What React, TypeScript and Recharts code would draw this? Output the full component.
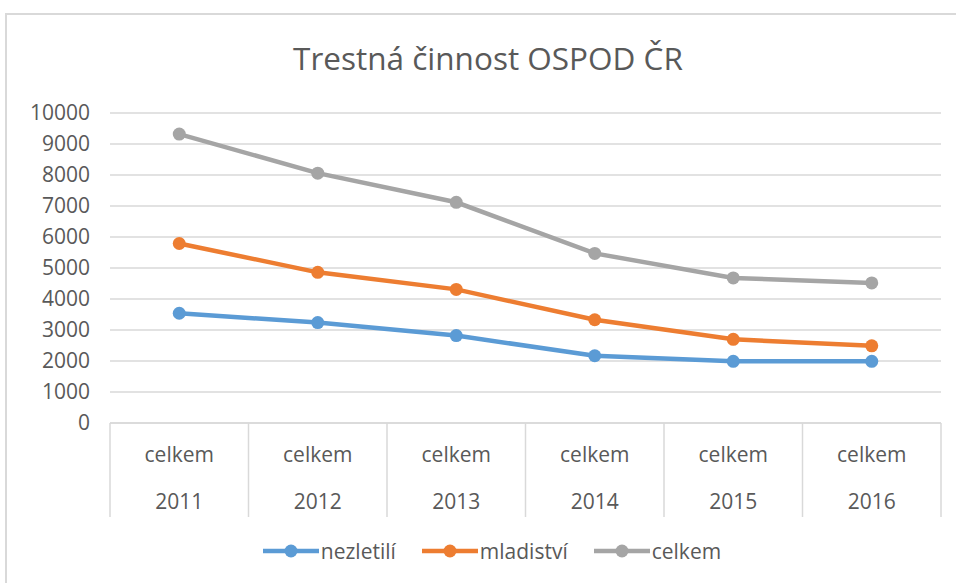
import React from "react";
import { LineChart, Line, XAxis, YAxis, CartesianGrid, Legend } from "recharts";

const years = ["2011", "2012", "2013", "2014", "2015", "2016"];
const categories = ["celkem", "celkem", "celkem", "celkem", "celkem", "celkem"];
const nezletili = [3540, 3240, 2820, 2170, 1990, 1990];
const mladistvi = [5790, 4860, 4310, 3330, 2700, 2490];
const celkem = [9320, 8060, 7120, 5470, 4680, 4520];
const yTicks = [0, 1000, 2000, 3000, 4000, 5000, 6000, 7000, 8000, 9000, 10000];

const seriesList = [
  { key: "nezletili", name: "nezletilí", color: "#5B9BD5" },
  { key: "mladistvi", name: "mladiství", color: "#ED7D31" },
  { key: "celkem", name: "celkem", color: "#A5A5A5" },
];

const data = years.map((year, i) => ({
  year,
  category: categories[i],
  nezletili: nezletili[i],
  mladistvi: mladistvi[i],
  celkem: celkem[i],
}));

// layout
const W = 956;
const H = 583;
const MARGIN = { top: 113, right: 15, left: 0, bottom: 66 };
const Y_W = 110;
const AXIS_H = 47;
const BAND = (W - MARGIN.left - MARGIN.right - Y_W) / years.length;
const GRID = "#d9d9d9";
const TEXT = "#595959";
const FONT = "'Open Sans', sans-serif";

const makeTick = (labels: string[]) => (props: any) => {
  const { x, y, index } = props;
  const half = BAND / 2;
  return (
    <g>
      <line x1={x - half} x2={x - half} y1={y} y2={y + AXIS_H} stroke={GRID} strokeWidth={1.5} />
      {index === labels.length - 1 && (
        <line x1={x + half} x2={x + half} y1={y} y2={y + AXIS_H} stroke={GRID} strokeWidth={1.5} />
      )}
      <text x={x} y={y + 39} textAnchor="middle" fill={TEXT} fontSize={21} fontFamily={FONT}>
        {labels[index]}
      </text>
    </g>
  );
};

// legend in series order (nezletilí, mladiství, celkem)
const renderLegend = () => (
  <div style={{ display: "flex", justifyContent: "center", gap: 26 }}>
    {seriesList.map((s) => (
      <div key={s.key} style={{ display: "flex", alignItems: "center" }}>
        <svg width={56} height={16}>
          <line x1={0} x2={56} y1={8} y2={8} stroke={s.color} strokeWidth={4.5} />
          <circle cx={28} cy={8} r={6.5} fill={s.color} />
        </svg>
        <span style={{ fontSize: 21, color: TEXT, fontFamily: FONT, marginLeft: 2 }}>{s.name}</span>
      </div>
    ))}
  </div>
);

export default function App() {
  return (
    <div
      style={{
        position: "absolute",
        left: 0,
        top: 0,
        width: W,
        height: H,
        overflow: "hidden",
        background: "#fff",
      }}
    >
      <div
        style={{
          position: "absolute",
          left: 5,
          top: 13,
          width: 1100,
          height: 800,
          borderTop: `2px solid ${GRID}`,
          borderLeft: `2px solid ${GRID}`,
        }}
      />
      <div
        style={{
          position: "absolute",
          left: 10,
          top: 40,
          width: W,
          textAlign: "center",
          fontFamily: FONT,
          fontSize: 31.5,
          lineHeight: "36px",
          color: TEXT,
        }}
      >
        Trestná činnost OSPOD ČR
      </div>
      <LineChart width={W} height={H} data={data} margin={MARGIN}>
        <CartesianGrid vertical={false} stroke={GRID} strokeWidth={1.5} />
        <XAxis
          dataKey="year"
          scale="band"
          height={AXIS_H}
          tickSize={0}
          tickMargin={0}
          tickLine={false}
          axisLine={{ stroke: GRID, strokeWidth: 1.5 }}
          interval={0}
          tick={makeTick(categories)}
        />
        <XAxis
          xAxisId="years"
          dataKey="year"
          scale="band"
          height={AXIS_H}
          tickSize={0}
          tickMargin={0}
          tickLine={false}
          axisLine={false}
          interval={0}
          tick={makeTick(years)}
        />
        <YAxis
          width={Y_W}
          domain={[0, 10000]}
          ticks={yTicks}
          interval={0}
          axisLine={false}
          tickLine={false}
          tickSize={0}
          tickMargin={20}
          tick={{ fill: TEXT, fontSize: 21, fontFamily: FONT }}
        />
        {seriesList.map((s) => (
          <Line
            key={s.key}
            type="linear"
            dataKey={s.key}
            name={s.name}
            stroke={s.color}
            strokeWidth={4.5}
            dot={{ r: 6.5, fill: s.color, stroke: s.color, strokeWidth: 0 }}
            activeDot={false}
            isAnimationActive={false}
          />
        ))}
        <Legend
          layout="horizontal"
          verticalAlign="middle"
          align="center"
          content={renderLegend}
          wrapperStyle={{ top: 537, left: 14, width: W }}
        />
      </LineChart>
    </div>
  );
}
